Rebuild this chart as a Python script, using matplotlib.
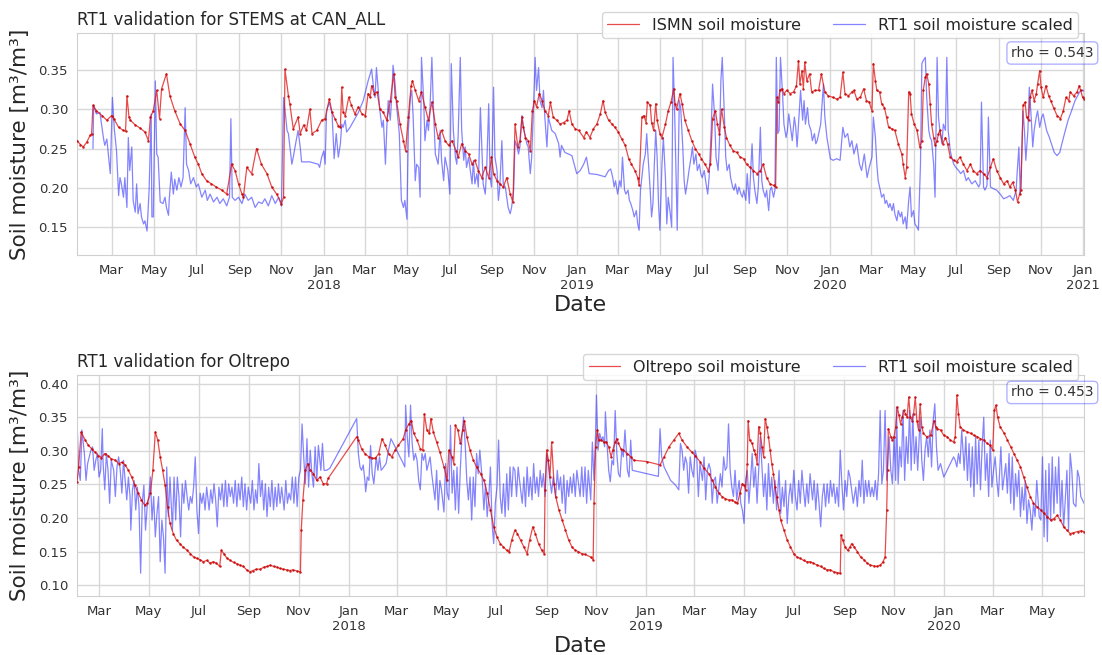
import matplotlib
matplotlib.use("Agg")
import matplotlib.pyplot as plt
import matplotlib.dates as mdates
import pandas as pd
import seaborn as sns

# ---------------- data (day offsets from each panel's start date) ----------------
top_start = "2017-01-10"
top_end = "2021-01-02"

top_ismn_day = [0, 5, 9, 14, 19, 21, 23, 28, 36, 43, 50, 53, 60, 67, 70, 72, 75, 77, 84, 91, 98, 103, 106, 110,
                115, 119, 122, 129, 134, 141, 149, 156, 163, 170, 175, 180, 187, 194, 201, 209, 216, 223, 228, 233,
                238, 240, 245, 252, 259, 266, 274, 281, 288, 295, 298, 300, 305, 307, 312, 319, 322, 327, 331, 336,
                339, 346, 353,
                358, 364, 368, 372, 377, 380, 382, 384, 387, 392, 396, 401, 406, 411, 416, 420, 423, 425, 429, 433,
                437, 442, 447, 452, 457, 459, 461, 466, 471, 474, 478, 482, 484, 488, 493, 497, 502, 507, 512, 517,
                521, 526, 531, 536, 541, 547, 550, 555, 560, 565, 570, 574, 579, 584, 589, 594, 598, 601, 606, 610,
                615, 620, 625, 629, 632, 636, 639, 642, 644, 647, 651, 654, 657, 660, 663, 667, 671, 675, 680, 683,
                687, 692, 697, 702, 707, 710, 714, 719, 724,
                731, 735, 740, 745, 750, 755, 759, 762, 767, 772, 776, 781, 786, 791, 796, 800, 805, 809, 811, 815,
                818, 821, 823, 827, 829, 832, 835, 837, 841, 844, 849, 853, 857, 861, 863, 865, 870, 873, 877, 882,
                887, 892, 897, 901, 906, 911, 914, 917, 921, 924, 927, 930, 934, 937, 942, 947, 952, 957, 962, 966,
                971, 976, 981, 986, 990, 995, 1000, 1005, 1008, 1010, 1012, 1014, 1017, 1020, 1024, 1029, 1034, 1038,
                1041, 1043, 1046, 1048, 1050, 1053, 1057, 1060, 1065, 1070, 1074, 1079, 1084,
                1091, 1096, 1101, 1105, 1108, 1113, 1118, 1121, 1125, 1130, 1135, 1139, 1143, 1147, 1149, 1152, 1154,
                1158, 1161, 1165, 1168, 1171, 1176, 1180, 1185, 1190, 1192, 1195, 1197, 1200, 1202, 1204, 1208, 1212,
                1216, 1219, 1221, 1224, 1226, 1229, 1231, 1233, 1236, 1238, 1241, 1243, 1245, 1249, 1253, 1256, 1260,
                1265, 1269, 1274, 1279, 1284, 1289, 1293, 1298, 1303, 1308, 1313, 1318, 1322, 1327, 1332, 1337, 1342,
                1346, 1350, 1354, 1357, 1360, 1362, 1365, 1368, 1370, 1373, 1375, 1378, 1381, 1384, 1386, 1389, 1391,
                1394, 1398, 1402, 1405, 1409, 1414, 1419, 1423, 1427, 1431, 1433, 1438, 1443, 1446, 1448, 1451, 1453]
top_ismn_val = [0.260, 0.255, 0.252, 0.258, 0.267, 0.268, 0.305, 0.298, 0.292, 0.286, 0.292, 0.288, 0.277, 0.273,
                0.272, 0.317, 0.290, 0.286, 0.280, 0.276, 0.271, 0.260, 0.290, 0.298, 0.324, 0.288, 0.326, 0.345,
                0.317, 0.298, 0.281, 0.273, 0.256, 0.239, 0.230, 0.218, 0.209, 0.205, 0.201, 0.197, 0.192, 0.230,
                0.222, 0.205, 0.192, 0.188, 0.226, 0.218, 0.250, 0.230, 0.218, 0.201, 0.192, 0.180, 0.188, 0.351,
                0.317, 0.307, 0.275, 0.290, 0.269, 0.280, 0.273, 0.300, 0.269, 0.273, 0.286,
                0.288, 0.313, 0.296, 0.288, 0.279, 0.277, 0.328, 0.296, 0.292, 0.315, 0.305, 0.294, 0.303, 0.294,
                0.292, 0.320, 0.315, 0.330, 0.320, 0.322, 0.300, 0.296, 0.286, 0.311, 0.345, 0.315, 0.311, 0.281,
                0.260, 0.247, 0.290, 0.330, 0.336, 0.324, 0.311, 0.322, 0.303, 0.286, 0.309, 0.281, 0.264, 0.273,
                0.260, 0.254, 0.260, 0.247, 0.239, 0.256, 0.247, 0.243, 0.230, 0.235, 0.222, 0.213, 0.226, 0.213,
                0.239, 0.218, 0.209, 0.205, 0.201, 0.213, 0.192, 0.182, 0.281, 0.252, 0.260, 0.290, 0.277, 0.264,
                0.260, 0.247, 0.298, 0.311, 0.303, 0.320, 0.311, 0.298, 0.292, 0.309, 0.290, 0.286, 0.281, 0.283,
                0.286, 0.298, 0.281, 0.275, 0.273,
                0.264, 0.271, 0.264, 0.275, 0.281, 0.294, 0.311, 0.296, 0.286, 0.281, 0.277, 0.271, 0.262, 0.254,
                0.237, 0.230, 0.222, 0.213, 0.203, 0.290, 0.292, 0.283, 0.309, 0.305, 0.283, 0.273, 0.307, 0.286,
                0.269, 0.264, 0.281, 0.298, 0.309, 0.326, 0.307, 0.300, 0.320, 0.307, 0.286, 0.273, 0.260, 0.250,
                0.243, 0.237, 0.230, 0.222, 0.230, 0.288, 0.298, 0.281, 0.269, 0.300, 0.277, 0.264, 0.254, 0.247,
                0.245, 0.239, 0.237, 0.230, 0.226, 0.222, 0.218, 0.222, 0.230, 0.213, 0.205, 0.203, 0.201, 0.315,
                0.309, 0.324, 0.326, 0.320, 0.324, 0.320, 0.322, 0.330, 0.362, 0.332, 0.349, 0.326, 0.360, 0.336,
                0.345, 0.322, 0.324, 0.324, 0.345, 0.322, 0.317,
                0.315, 0.313, 0.315, 0.347, 0.320, 0.317, 0.322, 0.324, 0.313, 0.315, 0.326, 0.311, 0.309, 0.298,
                0.358, 0.336, 0.324, 0.322, 0.307, 0.302, 0.290, 0.277, 0.275, 0.273, 0.256, 0.243, 0.230, 0.213,
                0.226, 0.322, 0.320, 0.294, 0.281, 0.273, 0.252, 0.260, 0.324, 0.341, 0.345, 0.332, 0.307, 0.281,
                0.264, 0.254, 0.260, 0.269, 0.273, 0.256, 0.264, 0.256, 0.239, 0.235, 0.233, 0.239, 0.230, 0.222,
                0.230, 0.222, 0.218, 0.222, 0.218, 0.213, 0.226, 0.237, 0.222, 0.213, 0.205, 0.209, 0.201, 0.207,
                0.197, 0.182, 0.192, 0.197, 0.305, 0.309, 0.290, 0.286, 0.315, 0.324, 0.311, 0.319, 0.332, 0.349,
                0.328, 0.315, 0.330, 0.317, 0.311, 0.302, 0.292, 0.288, 0.298, 0.315, 0.311, 0.322, 0.317, 0.322,
                0.330, 0.324, 0.315, 0.313]

top_rt1_day = [23, 24, 28, 33, 38, 40, 43, 48, 51, 54, 57, 60, 62, 64, 67, 69, 72, 74, 76, 79, 81, 84, 86, 88, 91,
               93, 96, 98, 101, 104, 107, 108, 110, 113, 115, 117, 120, 124, 127, 129, 132, 133, 136, 139, 141, 144,
               147, 150, 153, 156, 158, 161, 164, 168, 172, 175, 180, 185, 188, 192, 197, 202, 206, 211, 216, 220,
               222, 224, 228, 233, 238, 242, 247, 252, 257, 262, 267, 271, 276, 281, 286, 291, 295, 298, 300, 303,
               305, 310, 312, 317, 319, 322, 324, 329, 336, 348, 350, 353, 356,
               358, 360, 364, 368, 371, 374, 377, 380, 382, 384, 387, 389, 394, 401, 406, 413, 420, 425, 428, 430,
               432, 435, 437, 440, 442, 445, 447, 449, 452, 454, 456, 459, 461, 465, 468, 471, 473, 476, 478, 481,
               483, 485, 488, 490, 493, 495, 497, 500, 502, 505, 507, 509, 512, 514, 517, 521, 524, 526, 529, 531,
               535, 538, 540, 543, 546, 548, 550, 553, 555, 558, 560, 562, 565, 570, 572, 574, 577, 579, 582, 584,
               586, 589, 591, 594, 596, 598, 601, 603, 606, 608, 610, 613, 615, 618, 620, 622, 625, 627, 630, 632,
               635, 637, 639, 642, 644, 647, 649, 651, 654, 656, 659, 661, 663, 666, 668, 671, 673, 675, 678, 680,
               685, 690, 695, 697, 699, 704, 714, 721,
               726, 731, 735, 739, 750, 762, 767, 770, 773, 775, 777, 780, 783, 785, 787, 790, 792, 795, 797, 799,
               802, 804, 807, 809, 811, 813, 815, 817, 820, 822, 824, 827, 829, 831, 833, 835, 837, 839, 841, 844,
               846, 849, 851, 853, 856, 858, 860, 862, 864, 866, 869, 871, 874, 876, 878, 881, 883, 886, 888, 890,
               893, 895, 898, 900, 902, 905, 907, 910, 912, 915, 917, 920, 922, 925, 927, 929, 931, 934, 936, 938,
               941, 943, 946, 948, 950, 953, 955, 958, 960, 962, 965, 967, 970, 972, 974, 976, 978, 981, 983, 986,
               988, 990, 993, 995, 998, 1000, 1002, 1005, 1007, 1009, 1011, 1013, 1015, 1018, 1020, 1023, 1025,
               1027, 1030, 1032, 1035, 1037, 1039, 1042, 1044, 1047, 1049, 1051, 1054, 1056, 1059, 1061, 1064,
               1066, 1068, 1073, 1077, 1079, 1082,
               1087, 1091, 1096, 1101, 1105, 1108, 1112, 1115, 1118, 1121, 1125, 1129, 1132, 1136, 1140, 1143,
               1147, 1149, 1152, 1154, 1156, 1159, 1161, 1164, 1166, 1168, 1171, 1173, 1176, 1178, 1180, 1183,
               1185, 1188, 1190, 1192, 1195, 1197, 1200, 1202, 1204, 1207, 1209, 1212, 1214, 1217, 1219, 1221,
               1224, 1226, 1229, 1231, 1233, 1236, 1238, 1241, 1243, 1245, 1248, 1250, 1253, 1255, 1257, 1260,
               1262, 1265, 1268, 1272, 1275, 1279, 1283, 1286, 1291, 1296, 1301, 1303, 1305, 1308, 1310, 1313,
               1315, 1318, 1322, 1327, 1332, 1337, 1342, 1346, 1351, 1355, 1357, 1359, 1361, 1362, 1365, 1367,
               1369, 1372, 1374, 1377, 1379, 1381, 1384, 1386, 1389, 1392, 1394, 1397, 1399, 1403, 1406, 1410,
               1414, 1418, 1421, 1426, 1430, 1435, 1440, 1445, 1448, 1452, 1454]
top_rt1_val = [0.250, 0.305, 0.294, 0.296, 0.264, 0.254, 0.262, 0.218, 0.315, 0.273, 0.247, 0.190, 0.213, 0.205,
               0.188, 0.213, 0.175, 0.264, 0.222, 0.252, 0.184, 0.169, 0.205, 0.167, 0.180, 0.163, 0.154, 0.158,
               0.145, 0.197, 0.294, 0.163, 0.163, 0.336, 0.243, 0.239, 0.182, 0.180, 0.188, 0.175, 0.165, 0.184,
               0.220, 0.192, 0.211, 0.197, 0.213, 0.201, 0.213, 0.302, 0.230, 0.222, 0.205, 0.213, 0.201, 0.205,
               0.188, 0.197, 0.184, 0.192, 0.182, 0.188, 0.180, 0.186, 0.177, 0.188, 0.288, 0.188, 0.184, 0.188,
               0.180, 0.192, 0.184, 0.188, 0.175, 0.182, 0.180, 0.186, 0.177, 0.190, 0.180, 0.188, 0.177, 0.315,
               0.300, 0.273, 0.269, 0.230, 0.239, 0.264, 0.273, 0.252, 0.233, 0.233, 0.233, 0.230, 0.226, 0.239,
               0.247,
               0.230, 0.298, 0.309, 0.294, 0.237, 0.269, 0.239, 0.256, 0.281, 0.277, 0.286, 0.271, 0.277, 0.288,
               0.296, 0.311, 0.336, 0.351, 0.326, 0.315, 0.353, 0.320, 0.298, 0.277, 0.286, 0.230, 0.277, 0.311,
               0.286, 0.315, 0.356, 0.332, 0.305, 0.269, 0.184, 0.175, 0.184, 0.160, 0.273, 0.315, 0.324, 0.290,
               0.209, 0.230, 0.226, 0.188, 0.366, 0.315, 0.260, 0.286, 0.273, 0.294, 0.366, 0.307, 0.243, 0.230,
               0.273, 0.235, 0.209, 0.239, 0.222, 0.192, 0.358, 0.273, 0.239, 0.230, 0.269, 0.366, 0.273, 0.235,
               0.252, 0.226, 0.239, 0.205, 0.235, 0.205, 0.218, 0.201, 0.302, 0.252, 0.205, 0.192, 0.222, 0.307,
               0.213, 0.201, 0.328, 0.239, 0.222, 0.184, 0.201, 0.260, 0.205, 0.201, 0.188, 0.175, 0.167, 0.175,
               0.197, 0.260, 0.252, 0.243, 0.252, 0.292, 0.277, 0.264, 0.256, 0.252, 0.218, 0.239, 0.311, 0.366,
               0.324, 0.353, 0.311, 0.302, 0.324, 0.290, 0.252, 0.290, 0.273, 0.269, 0.256, 0.239, 0.254, 0.245,
               0.241, 0.218,
               0.222, 0.230, 0.239, 0.218, 0.217, 0.214, 0.222, 0.224, 0.213, 0.201, 0.209, 0.192, 0.209, 0.201,
               0.239, 0.197, 0.192, 0.197, 0.184, 0.180, 0.171, 0.163, 0.171, 0.154, 0.146, 0.197, 0.213, 0.230,
               0.243, 0.269, 0.239, 0.197, 0.163, 0.180, 0.230, 0.273, 0.239, 0.180, 0.146, 0.230, 0.264, 0.213,
               0.154, 0.188, 0.167, 0.150, 0.366, 0.307, 0.230, 0.146, 0.311, 0.302, 0.252, 0.209, 0.192, 0.209,
               0.222, 0.239, 0.252, 0.230, 0.243, 0.222, 0.230, 0.218, 0.213, 0.222, 0.209, 0.192, 0.213, 0.273,
               0.332, 0.290, 0.239, 0.222, 0.260, 0.336, 0.366, 0.294, 0.239, 0.222, 0.230, 0.213, 0.201, 0.197,
               0.205, 0.192, 0.201, 0.192, 0.188, 0.197, 0.184, 0.218, 0.180, 0.222, 0.256, 0.213, 0.197, 0.180,
               0.201, 0.277, 0.209, 0.197, 0.188, 0.197, 0.171, 0.197, 0.201, 0.188, 0.197, 0.366, 0.269, 0.273,
               0.366, 0.319, 0.281, 0.264, 0.273, 0.294, 0.273, 0.260, 0.290, 0.277, 0.252, 0.294, 0.324, 0.286,
               0.311, 0.281, 0.302, 0.281, 0.273, 0.260, 0.269, 0.256, 0.260, 0.281, 0.332, 0.290, 0.264,
               0.237, 0.235, 0.237, 0.235, 0.277, 0.264, 0.269, 0.252, 0.260, 0.243, 0.256, 0.230, 0.222, 0.243,
               0.213, 0.226, 0.239, 0.290, 0.264, 0.230, 0.209, 0.197, 0.188, 0.192, 0.180, 0.184, 0.175, 0.180,
               0.171, 0.180, 0.167, 0.158, 0.171, 0.163, 0.169, 0.154, 0.163, 0.148, 0.184, 0.201, 0.163, 0.171,
               0.154, 0.150, 0.146, 0.230, 0.358, 0.362, 0.366, 0.315, 0.273, 0.264, 0.260, 0.230, 0.188, 0.366,
               0.290, 0.273, 0.256, 0.281, 0.273, 0.366, 0.273, 0.247, 0.239, 0.230, 0.226, 0.222, 0.218, 0.222,
               0.209, 0.213, 0.205, 0.209, 0.201, 0.205, 0.309, 0.201, 0.197, 0.203, 0.290, 0.201, 0.199, 0.197,
               0.192, 0.186, 0.188, 0.190, 0.184, 0.197, 0.226, 0.252, 0.192, 0.213, 0.298, 0.273, 0.235, 0.273,
               0.328, 0.286, 0.252, 0.273, 0.290, 0.298, 0.277, 0.290, 0.294, 0.281, 0.273, 0.264, 0.256, 0.245,
               0.241, 0.245, 0.256, 0.273, 0.286, 0.298, 0.311, 0.319, 0.324, 0.324, 0.322]

bot_start = "2017-02-02"
bot_end = "2020-06-21"

bot_olt_day = [0, 2, 5, 10, 14, 18, 22, 26, 30, 34, 38, 42, 47, 51, 55, 59, 63, 67, 71, 75, 79, 83, 86, 90, 93, 96,
               99, 102, 105, 108, 111, 114, 118, 122, 126, 130, 135, 139, 143, 147, 151, 155, 159, 163, 167, 171,
               175, 177, 180, 184, 188, 192, 196, 200, 204, 208, 212, 216, 220, 225, 229, 233, 237, 241, 245, 249,
               253, 257, 261, 265, 270, 274, 275, 277, 280, 283, 286, 290, 294, 298, 302, 306,
               308, 343, 345, 349, 353, 358, 362, 366, 370, 374, 378, 382, 386, 390, 394, 400, 403, 407, 410, 413,
               417, 421, 424, 426, 429, 432, 434, 437, 441, 445, 450, 454, 456, 460, 462, 464, 467, 470, 473, 475,
               478, 482, 486, 490, 495, 499, 503, 507, 511, 515, 519, 523, 527, 530, 533, 537, 540, 544, 548, 552,
               555, 559, 562, 566, 570, 573, 574, 576, 578, 580, 582, 585, 587, 591, 595, 599, 603, 607, 611, 615,
               619, 623,
               630, 633, 634, 636, 638, 640, 643, 646, 649, 652, 655, 657, 660, 662, 664, 667, 670, 675, 679, 683,
               699, 715, 720, 726, 732, 738, 742, 748, 754, 758, 764, 769, 775, 779, 783, 787, 791, 795, 799, 803,
               807, 810, 813, 816, 818, 820, 822, 823, 825, 828, 830, 832, 834, 836, 838, 840, 842, 844, 846, 848,
               850, 852, 854, 856, 858, 861, 863, 867, 871, 875, 879, 883, 887, 891, 895, 899, 903, 908, 912, 916,
               920,
               924, 928, 932, 936, 937, 939, 942, 945, 948, 950, 953, 957, 961, 965, 969, 973, 977, 981, 985, 988,
               991, 993, 994, 995, 998, 1000, 1002, 1004, 1006, 1008, 1010, 1012, 1014, 1016, 1018, 1020, 1022,
               1024, 1026, 1028, 1030, 1032, 1034, 1036, 1038, 1042, 1047, 1051, 1053, 1055, 1059, 1063, 1067,
               1071, 1075, 1077, 1079, 1081, 1083, 1087, 1092, 1096, 1100, 1104, 1108, 1112, 1116, 1120, 1123,
               1125, 1127, 1129, 1132, 1137, 1141, 1145, 1149, 1153, 1157, 1161, 1165, 1169, 1173, 1177, 1182,
               1186, 1190, 1194, 1198, 1202, 1206, 1210, 1214, 1218, 1222, 1227, 1231, 1235, 1237]
bot_olt_val = [0.254, 0.276, 0.328, 0.316, 0.308, 0.303, 0.298, 0.293, 0.290, 0.296, 0.293, 0.288, 0.286, 0.281,
               0.283, 0.279, 0.271, 0.261, 0.249, 0.237, 0.227, 0.219, 0.222, 0.237, 0.271, 0.328, 0.316, 0.291,
               0.271, 0.249, 0.217, 0.192, 0.177, 0.167, 0.162, 0.157, 0.152, 0.147, 0.142, 0.140, 0.138, 0.135,
               0.137, 0.133, 0.135, 0.133, 0.128, 0.152, 0.147, 0.140, 0.137, 0.134, 0.132, 0.130, 0.128, 0.123,
               0.120, 0.122, 0.124, 0.124, 0.127, 0.128, 0.130, 0.128, 0.127, 0.125, 0.124, 0.123, 0.122, 0.123,
               0.121, 0.120, 0.182, 0.227, 0.271, 0.281, 0.271, 0.266, 0.256, 0.261, 0.251, 0.251,
               0.259, 0.321, 0.316, 0.303, 0.296, 0.291, 0.289, 0.289, 0.296, 0.318, 0.308, 0.296, 0.291, 0.301,
               0.308, 0.318, 0.331, 0.340, 0.345, 0.326, 0.316, 0.303, 0.301, 0.355, 0.331, 0.326, 0.348, 0.328,
               0.313, 0.298, 0.276, 0.256, 0.301, 0.291, 0.281, 0.338, 0.331, 0.311, 0.331, 0.345, 0.321, 0.301,
               0.286, 0.276, 0.266, 0.256, 0.237, 0.212, 0.187, 0.172, 0.162, 0.157, 0.152, 0.150, 0.167, 0.182,
               0.177, 0.167, 0.157, 0.147, 0.167, 0.187, 0.177, 0.162, 0.152, 0.147, 0.242, 0.301, 0.286, 0.261,
               0.313, 0.251, 0.232, 0.212, 0.197, 0.182, 0.167, 0.157, 0.152, 0.150, 0.147, 0.146,
               0.142, 0.138, 0.222, 0.306, 0.331, 0.316, 0.316, 0.313, 0.313, 0.306, 0.291, 0.301, 0.313, 0.318,
               0.311, 0.303, 0.301, 0.296, 0.291, 0.286, 0.284, 0.279, 0.291, 0.306, 0.316, 0.326, 0.316, 0.306,
               0.298, 0.293, 0.284, 0.274, 0.266, 0.256, 0.246, 0.237, 0.232, 0.229, 0.227, 0.227, 0.224, 0.222,
               0.237, 0.251, 0.249, 0.242, 0.281, 0.345, 0.316, 0.311, 0.301, 0.296, 0.281, 0.336, 0.326, 0.306,
               0.291, 0.348, 0.336, 0.321, 0.301, 0.281, 0.266, 0.246, 0.232, 0.212, 0.197, 0.182, 0.167, 0.157,
               0.147, 0.142, 0.140, 0.137, 0.135, 0.135, 0.133, 0.130, 0.128, 0.125, 0.123,
               0.123, 0.120, 0.119, 0.118, 0.175, 0.167, 0.157, 0.152, 0.157, 0.162, 0.157, 0.150, 0.142, 0.138,
               0.133, 0.130, 0.129, 0.128, 0.130, 0.134, 0.142, 0.212, 0.271, 0.333, 0.321, 0.316, 0.321, 0.336,
               0.365, 0.353, 0.340, 0.350, 0.360, 0.355, 0.350, 0.380, 0.350, 0.345, 0.355, 0.380, 0.345, 0.331,
               0.370, 0.336, 0.326, 0.321, 0.323, 0.345, 0.336, 0.333, 0.331, 0.323, 0.321, 0.316, 0.313, 0.321,
               0.383, 0.355, 0.336, 0.331, 0.328, 0.326, 0.323, 0.321, 0.318, 0.316, 0.311, 0.308, 0.301, 0.360,
               0.368, 0.350, 0.336, 0.326, 0.316, 0.306, 0.296, 0.286, 0.276, 0.261, 0.246, 0.232, 0.222, 0.217,
               0.212, 0.207, 0.202, 0.197, 0.199, 0.204, 0.197, 0.187, 0.182, 0.177, 0.178, 0.180, 0.181, 0.180,
               0.178]

bot_rt1_day = [0, 2, 4, 6, 9, 11, 13, 15, 17, 19, 21, 23, 25, 27, 29, 31, 32, 34, 36, 38, 40, 42, 45, 47, 49, 51,
               53, 55, 57, 59, 61, 63, 65, 66, 68, 70, 72, 74, 76, 78, 80, 82, 84, 86, 88, 90, 92, 94, 96, 98, 100,
               102, 104, 106, 108, 110, 112, 114, 117, 119, 121, 123, 125, 127, 129, 131, 133, 135, 137, 139, 141,
               143, 145, 147, 149, 151, 153, 155, 157, 159, 162, 164, 166, 168, 170, 172, 174, 176, 178, 180, 182,
               184, 186, 188, 190, 192, 194, 196, 198, 200, 202, 204, 206, 208, 210, 213, 215, 217, 219, 221, 223,
               225, 227, 229, 231, 233, 235, 237, 239, 241, 243, 245, 247, 249, 251, 254, 256, 258, 260, 262, 264,
               266, 268, 270, 272, 274, 276, 278, 280, 282, 284, 286, 288, 290, 292, 294, 296, 299, 301, 303, 306,
               310, 343, 345, 347, 349, 351, 353, 354, 356, 358, 360, 362, 364, 367, 369, 371, 373, 375, 379, 382,
               385, 388, 392, 396, 399, 402, 403, 405, 407, 409, 411, 413, 415, 417, 419, 421, 423, 425, 427, 429,
               431, 433, 435, 437, 439, 441, 443, 445, 447, 450, 452, 454, 456, 458, 460, 462, 464, 466, 468, 470,
               472, 474, 476, 478, 480, 482, 484, 486, 488, 490, 492, 494, 497, 499, 501, 503, 505, 507, 509, 511,
               513, 515, 517, 519, 521, 523, 525, 527, 529, 531, 533, 535, 537, 539, 541, 544, 546, 548, 550, 552,
               554, 556, 558, 560, 562, 564, 566, 568, 570, 572, 574, 576, 578, 580, 582, 584, 587, 589, 591, 593,
               595, 597, 599, 601, 603, 605, 607, 609, 611, 613, 615,
               617, 619, 621, 623, 625, 627, 630, 632, 634, 636, 637, 639, 641, 643, 645, 647, 648, 650, 652, 654,
               656, 658, 660, 662, 664, 666, 668, 670, 672, 675, 677, 679, 681, 699, 713, 715, 717, 720, 724, 728,
               734, 738, 740, 742, 744, 746, 748, 750, 752, 754, 756, 758, 760, 762, 764, 767, 769, 771, 773, 775,
               777, 779, 781, 783, 785, 787, 789, 791, 793, 795, 797, 799, 801, 803, 805, 807, 809, 812, 814, 816,
               818, 820, 822, 824, 826, 828, 830, 832, 834, 836, 838, 840, 842, 844, 846, 848, 850, 852, 854, 856,
               858, 861, 863, 865, 867, 869, 871, 873, 875, 877, 879, 881, 883, 885, 887, 889, 891, 893, 895, 897,
               899, 902, 904, 906, 908, 910, 912, 914, 916, 918, 920, 922,
               924, 926, 928, 930, 932, 934, 936, 938, 940, 942, 944, 946, 948, 950, 952, 955, 957, 959, 961, 963,
               965, 967, 969, 971, 973, 975, 977, 979, 981, 983, 985, 987, 989, 991, 993, 996, 998, 1000, 1002,
               1004, 1005, 1007, 1009, 1011, 1013, 1015, 1017, 1019, 1021, 1023, 1025, 1027, 1029, 1031, 1034,
               1036, 1038, 1040, 1042, 1044, 1046, 1048, 1050, 1052, 1054, 1056, 1059, 1063, 1067, 1071, 1075,
               1077, 1079, 1081, 1083, 1085, 1088, 1090, 1092, 1094, 1096, 1098, 1100, 1102, 1104, 1106, 1108,
               1110, 1112, 1114, 1116, 1118, 1120, 1122, 1124, 1126, 1128, 1130, 1133, 1135, 1137, 1139, 1141,
               1143, 1145, 1147, 1149, 1151, 1153, 1155, 1157, 1159, 1161, 1163, 1165, 1167, 1169, 1171, 1173,
               1175, 1177, 1180, 1182, 1184, 1186, 1188, 1190, 1192, 1194, 1196, 1198, 1200, 1202, 1204, 1206,
               1208, 1210, 1212, 1214, 1216, 1218, 1220, 1222, 1225, 1227, 1229, 1231, 1233, 1237]
bot_rt1_val = [0.345, 0.271, 0.256, 0.331, 0.296, 0.256, 0.281, 0.291, 0.301, 0.306, 0.271, 0.286, 0.296, 0.261,
               0.271, 0.333, 0.281, 0.242, 0.296, 0.271, 0.222, 0.286, 0.271, 0.232, 0.276, 0.291, 0.271, 0.237,
               0.286, 0.256, 0.227, 0.261, 0.232, 0.182, 0.242, 0.256, 0.212, 0.246, 0.217, 0.118, 0.222, 0.249,
               0.182, 0.217, 0.232, 0.261, 0.197, 0.232, 0.172, 0.207, 0.232, 0.135, 0.197, 0.172, 0.118, 0.276,
               0.202, 0.261, 0.182, 0.261, 0.197, 0.261, 0.232, 0.172, 0.251, 0.222, 0.256, 0.232, 0.212, 0.232,
               0.222, 0.246, 0.291, 0.212, 0.177, 0.237, 0.222, 0.237, 0.212, 0.246, 0.212, 0.242, 0.222, 0.251,
               0.227, 0.187, 0.246, 0.227, 0.251, 0.217, 0.256, 0.217, 0.251, 0.232, 0.246, 0.222, 0.256, 0.217,
               0.251, 0.227, 0.261, 0.217, 0.251, 0.212, 0.246, 0.222, 0.256, 0.212, 0.242, 0.222, 0.281, 0.232,
               0.256, 0.212, 0.251, 0.202, 0.246, 0.217, 0.256, 0.212, 0.246, 0.217, 0.251, 0.222, 0.246, 0.212,
               0.256, 0.222, 0.237, 0.227, 0.261, 0.222, 0.261, 0.217, 0.261, 0.271, 0.340, 0.291, 0.251, 0.318,
               0.246, 0.301, 0.266, 0.246, 0.306, 0.256, 0.308, 0.271, 0.311, 0.271, 0.271,
               0.274, 0.348, 0.296, 0.276, 0.271, 0.279, 0.256, 0.239, 0.261, 0.256, 0.308, 0.266, 0.251, 0.291,
               0.271, 0.291, 0.271, 0.274, 0.281, 0.301, 0.318, 0.311, 0.301, 0.291, 0.284, 0.276, 0.368, 0.321,
               0.291, 0.368, 0.311, 0.286, 0.296, 0.286, 0.256, 0.242, 0.296, 0.286, 0.296, 0.271, 0.281, 0.291,
               0.266, 0.246, 0.227, 0.271, 0.212, 0.256, 0.242, 0.209, 0.281, 0.237, 0.227, 0.338, 0.237, 0.271,
               0.212, 0.276, 0.207, 0.271, 0.321, 0.350, 0.311, 0.256, 0.227, 0.261, 0.197, 0.261, 0.217, 0.296,
               0.266, 0.301, 0.256, 0.212, 0.251, 0.202, 0.232, 0.276, 0.192, 0.162, 0.222, 0.246, 0.316, 0.232,
               0.207, 0.251, 0.202, 0.266, 0.212, 0.276, 0.232, 0.276, 0.271, 0.232, 0.276, 0.242, 0.222, 0.261,
               0.217, 0.276, 0.232, 0.261, 0.227, 0.281, 0.237, 0.261, 0.232, 0.271, 0.246, 0.266, 0.232, 0.296,
               0.281, 0.256, 0.237, 0.261, 0.232, 0.271, 0.242, 0.261, 0.222, 0.264, 0.207, 0.256, 0.232, 0.261,
               0.237, 0.266, 0.232, 0.271, 0.251,
               0.232, 0.276, 0.232, 0.276, 0.222, 0.271, 0.227, 0.313, 0.256, 0.326, 0.383, 0.301, 0.326, 0.316,
               0.321, 0.306, 0.358, 0.311, 0.271, 0.254, 0.286, 0.279, 0.360, 0.296, 0.266, 0.261, 0.301, 0.291,
               0.331, 0.271, 0.261, 0.316, 0.271, 0.266, 0.262, 0.333, 0.291, 0.276, 0.266, 0.256, 0.249, 0.242,
               0.311, 0.301, 0.271, 0.291, 0.281, 0.237, 0.291, 0.271, 0.261, 0.301, 0.291, 0.232, 0.281, 0.256,
               0.291, 0.227, 0.271, 0.281, 0.271, 0.222, 0.256, 0.261, 0.222, 0.242, 0.266, 0.246, 0.291, 0.271,
               0.276, 0.340, 0.271, 0.246, 0.232, 0.271, 0.227, 0.256, 0.222, 0.212, 0.192, 0.256, 0.271, 0.222,
               0.256, 0.296, 0.246, 0.276, 0.222, 0.271, 0.321, 0.276, 0.232, 0.266, 0.212, 0.281, 0.232, 0.261,
               0.222, 0.256, 0.212, 0.271, 0.207, 0.246, 0.217, 0.256, 0.192, 0.232, 0.251, 0.222, 0.271, 0.232,
               0.212, 0.256, 0.222, 0.271, 0.242, 0.217, 0.251, 0.222, 0.266, 0.227, 0.256, 0.212, 0.251, 0.222,
               0.187, 0.232, 0.251, 0.217, 0.251, 0.222,
               0.256, 0.232, 0.251, 0.222, 0.246, 0.217, 0.301, 0.251, 0.212, 0.256, 0.232, 0.271, 0.261, 0.242,
               0.222, 0.246, 0.217, 0.256, 0.232, 0.286, 0.222, 0.256, 0.232, 0.256, 0.232, 0.246, 0.232, 0.256,
               0.227, 0.266, 0.360, 0.251, 0.271, 0.360, 0.256, 0.321, 0.271, 0.251, 0.321, 0.256, 0.365, 0.251,
               0.306, 0.276, 0.360, 0.256, 0.321, 0.281, 0.360, 0.271, 0.355, 0.281, 0.321, 0.271, 0.350, 0.286,
               0.256, 0.301, 0.321, 0.291, 0.331, 0.276, 0.345, 0.370, 0.306, 0.271, 0.281, 0.261, 0.271, 0.281,
               0.291, 0.286, 0.276, 0.296, 0.281, 0.331, 0.271, 0.321, 0.256, 0.311, 0.246, 0.306, 0.232, 0.321,
               0.251, 0.316, 0.242, 0.306, 0.350, 0.256, 0.296, 0.232, 0.316, 0.246, 0.271, 0.291, 0.256, 0.232,
               0.306, 0.242, 0.261, 0.281, 0.237, 0.296, 0.222, 0.291, 0.212, 0.266, 0.232, 0.271, 0.202, 0.246,
               0.212, 0.256, 0.192, 0.227, 0.212, 0.182, 0.222, 0.202, 0.256, 0.202, 0.197, 0.291, 0.172, 0.271,
               0.165, 0.281, 0.197, 0.291, 0.207, 0.276, 0.222, 0.291, 0.202, 0.256, 0.187, 0.227, 0.271, 0.182,
               0.296, 0.271, 0.222, 0.217, 0.271, 0.261, 0.232, 0.227, 0.217]

titles = ["RT1 validation for STEMS at CAN_ALL", "RT1 validation for Oltrepo"]
ref_labels = ["ISMN soil moisture", "Oltrepo soil moisture"]
rt1_label = "RT1 soil moisture scaled"
rho_values = [0.543, 0.453]
top_yticks = [0.15, 0.20, 0.25, 0.30, 0.35]
bot_yticks = [0.10, 0.15, 0.20, 0.25, 0.30, 0.35, 0.40]

# ---------------- figure ----------------
sns.set_style("whitegrid")
plt.rcParams['font.family'] = ['DejaVu Sans']

fig = plt.figure(figsize=(11.02, 6.55), dpi=100)
ax1 = fig.add_axes([0.0699, 0.6107, 0.9138, 0.3389])
ax2 = fig.add_axes([0.0699, 0.0901, 0.9138, 0.3374])


def to_dates(start, days):
    return pd.to_datetime(start) + pd.to_timedelta(days, unit="D")


def month_fmt(x, pos=None):
    d = mdates.num2date(x)
    if d.month == 1:
        return d.strftime("%b") + "\n" + str(d.year)
    return d.strftime("%b")


panels = [
    (ax1, top_start, top_end, top_ismn_day, top_ismn_val, top_rt1_day, top_rt1_val,
     (0.1145, 0.397), top_yticks),
    (ax2, bot_start, bot_end, bot_olt_day, bot_olt_val, bot_rt1_day, bot_rt1_val,
     (0.0841, 0.4128), bot_yticks),
]

for i, (ax, st, en, rd, rv, bd, bv, ylim, yt) in enumerate(panels):
    rdates = to_dates(st, rd)
    bdates = to_dates(st, bd)
    ax.plot(rdates, rv, color="#e01010", lw=0.9, alpha=0.75, label=ref_labels[i], zorder=3)
    ax.plot(rdates, rv, ls="none", marker="o", ms=1.8, mew=0, color="#c40000", alpha=0.85, zorder=3)
    ax.plot(bdates, bv, color="#2020ff", lw=0.9, alpha=0.55, label=rt1_label, zorder=2)
    ax.set_xlim(pd.to_datetime(st), pd.to_datetime(en))
    ax.set_ylim(*ylim)
    ax.set_yticks(yt)
    ax.yaxis.set_major_formatter(matplotlib.ticker.FormatStrFormatter("%.2f"))
    ax.xaxis.set_major_locator(mdates.MonthLocator(bymonth=[1, 3, 5, 7, 9, 11]))
    ax.xaxis.set_major_formatter(matplotlib.ticker.FuncFormatter(month_fmt))
    ax.tick_params(axis="both", labelsize=9.5, colors="#333333", pad=3)
    for lbl in ax.get_xticklabels():
        lbl.set_horizontalalignment("center")
    ax.grid(True, color="#d8d8d8", lw=1.0)
    for sp in ax.spines.values():
        sp.set_color("#d0d0d0")
    ax.set_title(titles[i], loc="left", fontsize=12, color="#262626", pad=6)
    ax.set_ylabel("Soil moisture [m³/m³]", fontsize=15.5, color="#262626", labelpad=6)
    ax.set_xlabel("Date", fontsize=16, color="#262626", labelpad=2)
    leg = ax.legend(loc="upper right", bbox_to_anchor=(0.994, 1.095), borderaxespad=0.0, ncol=2,
                    fontsize=11.5, frameon=True, fancybox=True, framealpha=0.85, edgecolor="#d0d0d0",
                    columnspacing=2.0, handlelength=2.0, borderpad=0.35)
    leg.set_zorder(10)
    ax.text(1.0095, 0.91 if i == 0 else 0.921, f"rho = {rho_values[i]:.3f}", transform=ax.transAxes,
            ha="right", va="center", fontsize=10, color="#333333", zorder=11,
            bbox=dict(boxstyle="round,pad=0.3", facecolor="white", edgecolor="blue", alpha=0.3))

fig.savefig("out.png", dpi=100)
